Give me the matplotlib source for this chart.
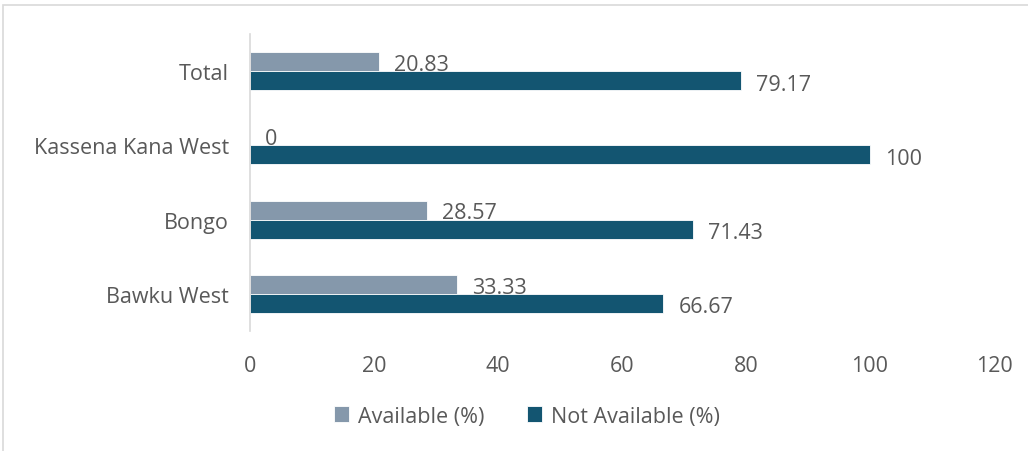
import matplotlib
matplotlib.use("Agg")
import matplotlib.pyplot as plt
from matplotlib.patches import Rectangle
import numpy as np

plt.rcParams['font.family'] = ['Open Sans', 'DejaVu Sans']

districts = ["Bawku West", "Bongo", "Kassena Kana West", "Total"]
available = [33.33, 28.57, 0, 20.83]
not_available = [66.67, 71.43, 100, 79.17]
x_ticks = [0, 20, 40, 60, 80, 100, 120]

c_avail = "#8598AB"
c_not = "#135571"
txt = "#595959"
fs = 15.5

fig = plt.figure(figsize=(10.28, 4.52), dpi=100)
ax = fig.add_axes([250/1028, 1 - 332/452, (994-250)/1028, (332-35)/452])

y = np.arange(len(districts))
h = 0.255
ax.barh(y + h/2, available, height=h, color=c_avail, edgecolor="white", linewidth=0.6, label="Available (%)")
ax.barh(y - h/2, not_available, height=h, color=c_not, edgecolor="white", linewidth=0.6, label="Not Available (%)")

for yi, v in zip(y, available):
    ax.annotate(f"{v:g}", (v, yi + h/2), xytext=(11, -2), textcoords="offset points",
                ha="left", va="center", fontsize=fs, color=txt)
for yi, v in zip(y, not_available):
    ax.annotate(f"{v:g}", (v, yi - h/2), xytext=(11, -2.5), textcoords="offset points",
                ha="left", va="center", fontsize=fs, color=txt)

ax.set_xlim(0, 120)
ax.set_ylim(-0.5, 3.5)
ax.set_xticks(x_ticks)
ax.set_xticklabels([str(t) for t in x_ticks])
ax.set_yticks(y)
ax.set_yticklabels(districts)
ax.tick_params(axis="both", length=0, labelsize=fs, labelcolor=txt)
ax.tick_params(axis="x", pad=17)
ax.tick_params(axis="y", pad=15)
for s in ["top", "right", "bottom"]:
    ax.spines[s].set_visible(False)
ax.spines["left"].set_color("#D9D9D9")
ax.spines["left"].set_linewidth(1.2)

leg = fig.legend(loc="center", bbox_to_anchor=(527/1028, 1 - 417/452), ncol=2, frameon=False,
                 fontsize=fs, handlelength=0.7, handleheight=0.7, handletextpad=0.4,
                 columnspacing=2.0)
for t in leg.get_texts():
    t.set_color(txt)

fig.patches.append(Rectangle((3/1028, -0.01), 1.02, 1 - 6/452 + 0.01, transform=fig.transFigure,
                             fill=False, edgecolor="#D9D9D9", linewidth=1.2))

fig.savefig("out.png", dpi=100, facecolor="white")
